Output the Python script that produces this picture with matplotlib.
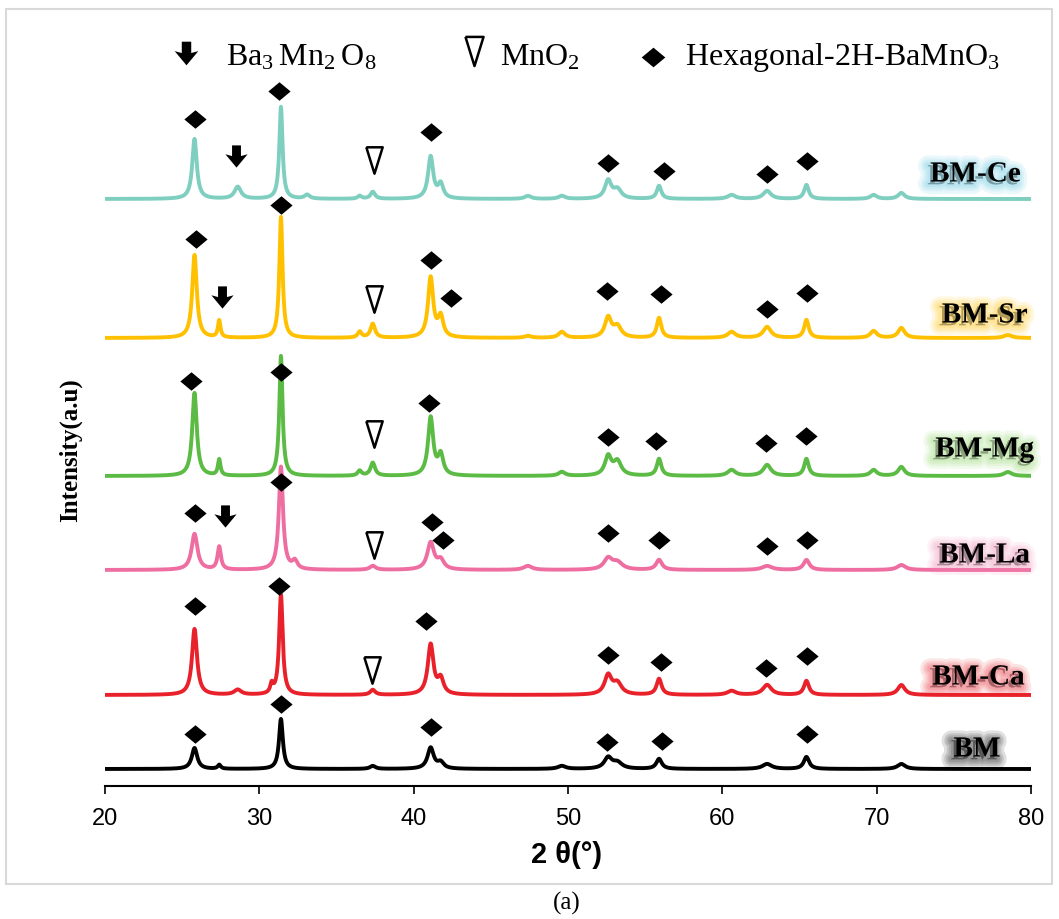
import numpy as np
import matplotlib
matplotlib.use("Agg")
import matplotlib.pyplot as plt
import matplotlib.patheffects as pe
from matplotlib.path import Path
from matplotlib.patches import Rectangle

plt.rcParams["mathtext.default"] = "regular"

SERIF = ["Liberation Serif", "DejaVu Serif"]
NARROW = ["Liberation Sans Narrow", "Liberation Sans", "DejaVu Sans"]

# 2theta sampling grid
two_theta = np.linspace(20, 80, 3001)

# ---- peak list (2theta, FWHM) ----
peak_pos = [25.8, 27.4, 28.6, 30.8, 31.4, 32.3, 33.1, 36.5, 37.35, 41.1, 41.75,
            47.4, 49.6, 52.6, 53.2, 55.9, 60.6, 62.9, 65.45, 69.8, 71.6, 78.5]
peak_fwhm = [0.35, 0.2, 0.5, 0.2, 0.25, 0.3, 0.4, 0.3, 0.35, 0.4, 0.4,
             0.5, 0.5, 0.5, 0.6, 0.35, 0.6, 0.6, 0.35, 0.5, 0.5, 0.6]

# peak heights per sample (a.u., same order as peak_pos)
h_ce = [60, 0, 12, 0, 92, 0, 4, 3, 7, 42, 14, 3, 3, 18, 9, 13, 4, 8, 14, 4, 6, 0]
h_sr = [83, 17, 0, 0, 121, 0, 0, 6, 14, 60, 20, 2, 6, 20, 11, 20, 6, 11, 18, 7, 10, 3]
h_mg = [83, 16, 0, 0, 120, 0, 0, 5, 13, 58, 20, 0, 4, 19, 14, 17, 6, 11, 17, 6, 9, 4]
h_la = [36, 23, 0, 0, 103, 8, 0, 0, 4, 27, 9, 4, 0, 11, 7, 10, 0, 4, 10, 0, 5, 0]
h_ca = [66, 0, 5, 9, 100, 0, 0, 0, 5, 50, 15, 0, 0, 19, 11, 16, 4, 10, 14, 0, 10, 0]
h_bm = [21, 4, 0, 0, 50, 0, 0, 0, 3, 21, 6, 0, 3, 11, 6, 10, 0, 5, 12, 0, 5, 0]

samples = ["BM-Ce", "BM-Sr", "BM-Mg", "BM-La", "BM-Ca", "BM"]
heights = [h_ce, h_sr, h_mg, h_la, h_ca, h_bm]
width_scale = [1.0, 1.0, 1.0, 1.3, 1.1, 1.2]
offsets = [587, 448, 310, 216, 91, 17]
colors = ["#7fcfc0", "#ffc000", "#5bbb44", "#ef6ea2", "#e8212b", "#000000"]
glow = ["#5bc6e0", "#ffc000", "#8fd66a", "#f08cb4", "#e8212b", "#000000"]

# label anchor (2theta, y)
label_x = [76.4, 77.0, 77.0, 77.0, 76.6, 76.5]
label_y = [612, 471, 337, 231, 109, 37]

# phase markers (2theta, y) per pattern
hex_x = [[25.8, 31.3, 41.1, 52.6, 56.2, 62.9, 65.5],
         [25.9, 31.4, 41.1, 42.4, 52.5, 56.0, 62.9, 65.5],
         [25.6, 31.4, 41.0, 52.6, 55.7, 62.8, 65.4],
         [25.8, 31.4, 41.2, 41.9, 52.6, 55.9, 62.9, 65.5],
         [25.8, 31.3, 40.8, 52.6, 56.0, 62.8, 65.5],
         [25.8, 31.4, 41.1, 52.5, 56.1, 65.5]]
hex_y = [[667, 695, 654, 623, 615, 612, 625],
         [547, 581, 526, 488, 495, 492, 477, 493],
         [405, 414, 383, 349, 345, 343, 350],
         [273, 304, 264, 246, 253, 246, 240, 246],
         [180, 200, 165, 131, 124, 118, 130],
         [52, 82, 59, 44, 45, 52]]
arrow_x = [28.5, 27.6, 27.8]
arrow_y = [630, 489, 270]
tri_x = [37.4, 37.4, 37.4, 37.4, 37.3]
tri_y = [626, 487, 352, 241, 116]

# legend row
legend_labels = [r"Ba$_3\,$Mn$_2\,$O$_8$", "MnO$_2$", "Hexagonal-2H-BaMnO$_3$"]
legend_mark_x = [25.25, 43.9, 55.5]
legend_mark_y = [733, 735, 729]
legend_text_x = [27.85, 45.6, 57.6]
legend_y = 722

# marker shapes
diamond = Path([(0, 0.5), (0.6, 0), (0, -0.5), (-0.6, 0), (0, 0.5)])
triangle = Path([(-0.31, 0.5), (0.31, 0.5), (0, -0.5), (-0.31, 0.5)])
arrow = Path([(-0.2, 0.5), (0.2, 0.5), (0.2, 0.02), (0.5, 0.1), (0, -0.5),
              (-0.5, 0.1), (-0.2, 0.02), (-0.2, 0.5)])


def pattern(h, ws):
    y = np.zeros_like(two_theta)
    for p, w, a in zip(peak_pos, peak_fwhm, h):
        g = w * ws / 2
        y += a * g ** 2 / ((two_theta - p) ** 2 + g ** 2)
    return y


fig = plt.figure(figsize=(10.59, 9.20), dpi=100)
ax = fig.add_axes([105 / 1059, 133 / 920, 926 / 1059, 767 / 920])

for name, h, ws, off, c, gc, lx, ly in zip(samples, heights, width_scale, offsets,
                                         colors, glow, label_x, label_y):
    ax.plot(two_theta, off + pattern(h, ws), color=c, lw=2.8, solid_joinstyle="round")
    effects = [pe.Stroke(linewidth=lw, foreground=gc, alpha=0.12, offset=(-2, -2))
               for lw in (14, 10, 7, 4)] + [pe.Normal()]
    ax.text(lx, ly, name, ha="center", va="center", family=SERIF, fontsize=21,
            fontweight="bold", color="black", path_effects=effects)

for xs, ys in zip(hex_x, hex_y):
    ax.plot(xs, ys, ls="none", marker=diamond, ms=16, color="black", mew=0)
ax.plot(arrow_x, arrow_y, ls="none", marker=arrow, ms=16, color="black", mew=0)
ax.plot(tri_x, tri_y, ls="none", marker=triangle, ms=19, mfc="white", mec="black", mew=1.8)

# legend
for mk, mx, my, tx, lab in zip([arrow, triangle, diamond], legend_mark_x, legend_mark_y,
                               legend_text_x, legend_labels):
    if mk is triangle:
        ax.plot([mx], [my], ls="none", marker=mk, ms=21, mfc="white", mec="black",
                mew=1.8, clip_on=False)
    else:
        ax.plot([mx], [my], ls="none", marker=mk, ms=17, color="black", mew=0, clip_on=False)
    ax.text(tx, legend_y, lab, ha="left", va="baseline", family=SERIF, fontsize=23)

ax.set_xlim(20, 80)
ax.set_ylim(0, 767)
ax.set_xticks(np.arange(20, 81, 10))
ax.set_yticks([])
for s in ("left", "right", "top"):
    ax.spines[s].set_visible(False)
ax.spines["bottom"].set_linewidth(1.5)
ax.tick_params(axis="x", direction="out", length=6, width=1.2, pad=9, labelsize=17)
for t in ax.get_xticklabels():
    t.set_family(NARROW)

fig.text(70 / 1059, 1 - 450 / 920, "Intensity(a.u)", rotation=90, ha="center", va="center",
         family=SERIF, fontsize=18, fontweight="bold")
fig.text(567 / 1059, 1 - 855 / 920, "2 θ(°)", ha="center", va="center", family=NARROW,
         fontsize=21, fontweight="bold")
fig.text(567 / 1059, 1 - 903 / 920, "(a)", ha="center", va="center", family=SERIF,
         fontsize=18)

fig.add_artist(Rectangle((6 / 1059, 1 - 885 / 920), 1046 / 1059, 875 / 920,
                         transform=fig.transFigure, fill=False, ec="#d9d9d9", lw=1.5))

fig.savefig("out.png", dpi=100)
